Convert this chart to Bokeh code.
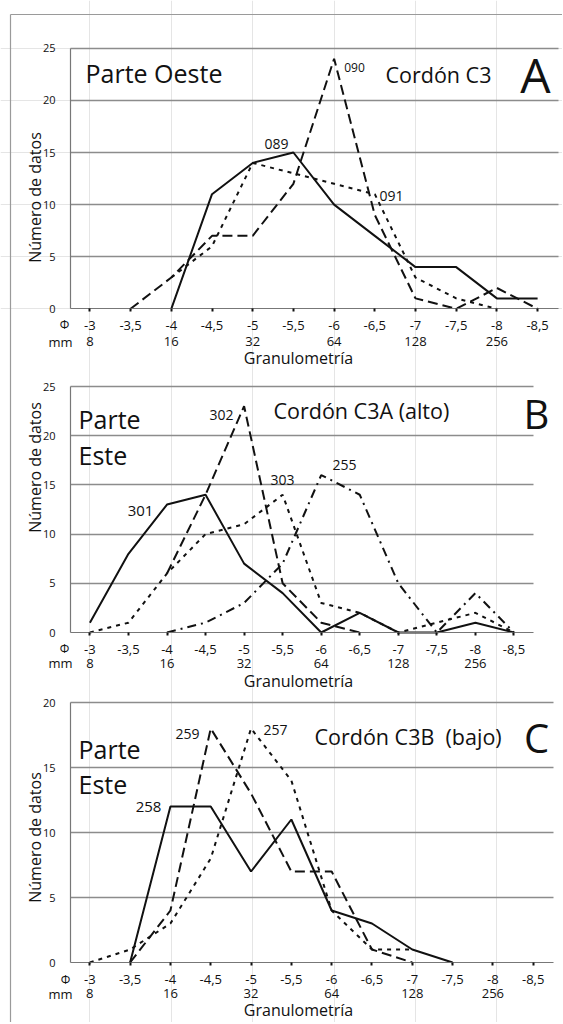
from math import pi
from bokeh.plotting import figure
from bokeh.models import Range1d, FixedTicker, LinearAxis, Label, Grid
from bokeh.embed import file_html
from bokeh.resources import INLINE

FONT = "Open Sans"
INK = "#111111"
GRID = "#8c8c8c"
AXIS = "#777777"
BORDER = "#9a9a9a"

# ---- shared axis data ----
phi_ticks = [-3.0, -3.5, -4.0, -4.5, -5.0, -5.5, -6.0, -6.5, -7.0, -7.5, -8.0, -8.5]
phi_labels = ["-3", "-3,5", "-4", "-4,5", "-5", "-5,5", "-6", "-6,5", "-7", "-7,5", "-8", "-8,5"]
mm_ticks = [-3.0, -4.0, -5.0, -6.0, -7.0, -8.0]
mm_labels = ["8", "16", "32", "64", "128", "256"]

# ---- Panel A: Parte Oeste, Cordón C3 ----
a_phi_089 = [-4.0, -4.5, -5.0, -5.5, -6.0, -6.5, -7.0, -7.5, -8.0, -8.5]
a_n_089 = [0, 11, 14, 15, 10, 7, 4, 4, 1, 1]
a_phi_090 = [-3.5, -4.0, -4.5, -5.0, -5.5, -6.0, -6.5, -7.0, -7.5, -8.0, -8.5]
a_n_090 = [0, 3, 7, 7, 12, 24, 9, 1, 0, 2, 0]
a_phi_091 = [-4.0, -4.5, -5.0, -5.5, -6.0, -6.5, -7.0, -7.5, -8.0]
a_n_091 = [3, 6, 14, 13, 12, 11, 3, 1, 0]

# ---- Panel B: Parte Este, Cordón C3A (alto) ----
b_phi_301 = [-3.0, -3.5, -4.0, -4.5, -5.0, -5.5, -6.0, -6.5, -7.0, -7.5, -8.0, -8.5]
b_n_301 = [1, 8, 13, 14, 7, 4, 0, 2, 0, 0, 1, 0]
b_phi_302 = [-4.0, -4.5, -5.0, -5.5, -6.0, -6.5]
b_n_302 = [6, 14, 23, 5, 1, 0]
b_phi_303 = [-3.0, -3.5, -4.0, -4.5, -5.0, -5.5, -6.0, -6.5, -7.0, -7.5, -8.0, -8.5]
b_n_303 = [0, 1, 6, 10, 11, 14, 3, 2, 0, 1, 2, 0]
b_phi_255 = [-4.0, -4.5, -5.0, -5.5, -6.0, -6.5, -7.0, -7.5, -8.0, -8.5]
b_n_255 = [0, 1, 3, 7, 16, 14, 5, 0, 4, 0]

# ---- Panel C: Parte Este, Cordón C3B (bajo) ----
c_phi_258 = [-3.5, -4.0, -4.5, -5.0, -5.5, -6.0, -6.5, -7.0, -7.5]
c_n_258 = [0, 12, 12, 7, 11, 4, 3, 1, 0]
c_phi_259 = [-3.5, -4.0, -4.5, -5.0, -5.5, -6.0, -6.5, -7.0]
c_n_259 = [0, 4, 18, 13, 7, 7, 1, 0]
c_phi_257 = [-3.0, -3.5, -4.0, -4.5, -5.0, -5.5, -6.0, -6.5, -7.0]
c_n_257 = [0, 1, 3, 8, 18, 14, 4, 1, 1]

SOLID, DASHED, DOTTED, DASHDOT = "solid", "10 5", "4 5", "9 5 2 5"
W, H = 562, 1022

# panel geometry (pixels of the page): x of phi=-3 tick, px per 0.5 phi, y of 0, px per unit
gA = dict(t0=89.4, sp=40.7, y0=308.3, ppu=10.42, right=558, ymax=25,
          s_phi=9, s_mm=28, ytitle=197, xtitle=357, phi_xy=(64, 324), mm_xy=(60, 341))
gB = dict(t0=89.4, sp=38.55, y0=632, ppu=9.84, right=533, ymax=25,
          s_phi=9, s_mm=26, ytitle=467, xtitle=680, phi_xy=(64, 648), mm_xy=(60, 662))
gC = dict(t0=89.3, sp=40.31, y0=962, ppu=13.0, right=553, ymax=20,
          s_phi=9, s_mm=26, ytitle=837, xtitle=1009, phi_xy=(65, 979), mm_xy=(60, 993))


def conv(g):
    def dx(px):
        return -3.0 - 0.5 * (px - g["t0"]) / g["sp"]

    def dy(py):
        return (g["y0"] - py) / g["ppu"]
    return dx, dy


dxA, dyA = conv(gA)
p = figure(
    x_range=Range1d(dxA(0), dxA(W)), y_range=Range1d(dyA(H), dyA(0)),
    frame_width=W, frame_height=H, min_border=0,
    x_axis_location=None, y_axis_location=None,
    toolbar_location=None, output_backend="svg",
)
p.outline_line_color = None
p.background_fill_color = "white"
p.border_fill_color = "white"


def rule_axis(fixed, bounds, place):
    """Bare axis line used as the outer frame of the figure."""
    ax = LinearAxis(ticker=FixedTicker(ticks=[]), fixed_location=fixed, bounds=bounds)
    ax.axis_line_color = BORDER
    ax.axis_line_width = 1.2
    ax.major_tick_line_color = None
    ax.minor_tick_line_color = None
    ax.major_label_text_font_size = "0px"
    p.add_layout(ax, place)


rule_axis(dxA(10), (dyA(H), dyA(13.5)), "left")
rule_axis(dyA(13.5), (dxA(W), dxA(10)), "below")


def make_panel(name, g):
    dx, dy = conv(g)
    if name != "default":
        p.extra_x_ranges[name] = Range1d(dx(0), dx(W))
        p.extra_y_ranges[name] = Range1d(dy(H), dy(0))
    rn = dict(x_range_name=name, y_range_name=name)

    x_lo, x_hi = dx(70), dx(g["right"])
    y_max = g["ymax"]
    yt = list(range(0, y_max + 1, 5))

    grid = Grid(dimension=1, ticker=FixedTicker(ticks=yt[1:]),
                grid_line_color=GRID, grid_line_width=1.3, **rn)
    grid.cross_bounds = (x_hi, x_lo)
    p.add_layout(grid)

    xa = LinearAxis(ticker=FixedTicker(ticks=phi_ticks),
                    major_label_overrides={t: l for t, l in zip(phi_ticks, phi_labels)},
                    fixed_location=0, bounds=(x_hi, x_lo), **rn)
    xa.axis_line_color = AXIS
    xa.axis_line_width = 1.2
    xa.major_tick_line_color = INK
    xa.major_tick_line_width = 2
    xa.major_tick_in = 0
    xa.major_tick_out = 3
    xa.minor_tick_line_color = None
    xa.major_label_text_font = FONT
    xa.major_label_text_font_size = "13px"
    xa.major_label_text_color = INK
    xa.major_label_standoff = g["s_phi"]
    p.add_layout(xa, "below")

    mm = LinearAxis(ticker=FixedTicker(ticks=mm_ticks),
                    major_label_overrides={t: l for t, l in zip(mm_ticks, mm_labels)},
                    fixed_location=0, bounds=(x_hi, x_lo), **rn)
    mm.axis_line_color = None
    mm.major_tick_line_color = None
    mm.minor_tick_line_color = None
    mm.major_tick_out = 0
    mm.major_tick_in = 0
    mm.major_label_standoff = g["s_mm"]
    mm.major_label_text_font = FONT
    mm.major_label_text_font_size = "13px"
    mm.major_label_text_color = INK
    p.add_layout(mm, "below")

    ya = LinearAxis(ticker=FixedTicker(ticks=yt), fixed_location=x_lo,
                    bounds=(0, y_max), **rn)
    ya.axis_line_color = AXIS
    ya.axis_line_width = 1.2
    ya.major_tick_line_color = None
    ya.minor_tick_line_color = None
    ya.major_label_text_font = FONT
    ya.major_label_text_font_size = "11px"
    ya.major_label_text_color = INK
    ya.major_label_standoff = 9
    p.add_layout(ya, "left")

    def lab(text, px, py, size, align="center", angle=0.0):
        p.add_layout(Label(x=dx(px), y=dy(py), text=text, text_font=FONT,
                           text_font_size=size, text_color=INK, text_align=align,
                           text_baseline="middle", angle=angle, **rn))

    def series(xs, ys, dash):
        p.line(xs, ys, line_color=INK, line_width=2, line_dash=dash, **rn)

    lab("Número de datos", 34, g["ytitle"], "16px", angle=pi / 2)
    lab("Granulometría", 298, g["xtitle"], "16px")
    lab("\u03a6", g["phi_xy"][0], g["phi_xy"][1], "12px")
    lab("mm", g["mm_xy"][0], g["mm_xy"][1], "13px")
    return lab, series


# ---------------- Panel A ----------------
labA, serA = make_panel("default", gA)
serA(a_phi_089, a_n_089, SOLID)
serA(a_phi_090, a_n_090, DASHED)
serA(a_phi_091, a_n_091, DOTTED)
labA("Parte Oeste", 85, 72, "25px", align="left")
labA("Cordón C3", 385, 74, "21.5px", align="left")
labA("A", 535, 74, "48px")
labA("090", 354, 67, "12px")
labA("089", 276, 143, "14px")
labA("091", 391, 195, "14px")

# ---------------- Panel B ----------------
labB, serB = make_panel("B", gB)
serB(b_phi_301, b_n_301, SOLID)
serB(b_phi_302, b_n_302, DASHED)
serB(b_phi_303, b_n_303, DOTTED)
serB(b_phi_255, b_n_255, DASHDOT)
labB("Parte", 78, 418, "25px", align="left")
labB("Este", 78, 454, "25px", align="left")
labB("Cordón C3A (alto)", 273, 410, "21.5px", align="left")
labB("B", 536, 413, "40px")
labB("301", 140, 510, "15px")
labB("302", 221, 414, "14px")
labB("303", 282, 479, "14px")
labB("255", 344, 464, "14px")

# ---------------- Panel C ----------------
labC, serC = make_panel("C", gC)
serC(c_phi_258, c_n_258, SOLID)
serC(c_phi_259, c_n_259, DASHED)
serC(c_phi_257, c_n_257, DOTTED)
labC("Parte", 78, 748, "25px", align="left")
labC("Este", 78, 783, "25px", align="left")
labC("Cordón C3B\u00a0 (bajo)", 314, 736, "21.5px", align="left")
labC("C", 536, 737, "40px")
labC("259", 187, 733, "14px")
labC("257", 275, 729, "14px")
labC("258", 148, 806, "15px")

open("out.html", "w").write(file_html(p, INLINE))
